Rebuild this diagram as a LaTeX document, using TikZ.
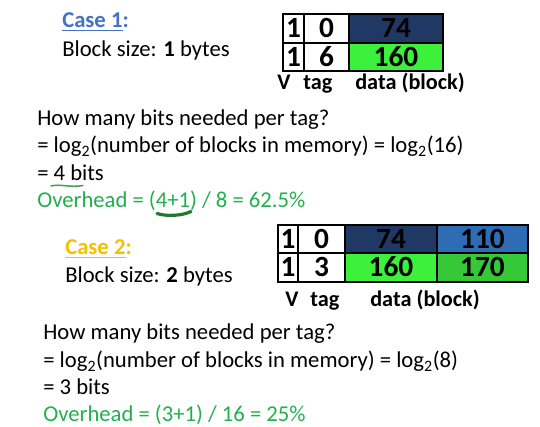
\documentclass[tikz,border=0pt]{standalone}
\usepackage{fontspec}
\setmainfont{Carlito}
\definecolor{caseblue}{HTML}{4472C4}
\definecolor{casegold}{HTML}{F5C000}
\definecolor{okgreen}{HTML}{22B04E}
\definecolor{inkgreen}{HTML}{1E7A32}
\definecolor{penlight}{HTML}{3E9E50}
\definecolor{navy}{HTML}{1F3864}
\definecolor{midblue}{HTML}{2E6DB4}
\definecolor{lime}{HTML}{3CF03C}
\definecolor{leaf}{HTML}{36C836}
% one table cell: name, left, top, right, bottom, fill, text
\newcommand\tcell[7]{%
  \node[cellbox, fill=#6, anchor=north west,
        minimum width={(#4-#2)*0.75pt}, minimum height={(#5-#3)*0.75pt}]
        (#1) at (#2,#3) {#7};}
\begin{document}
\begin{tikzpicture}[x=0.75pt,y=-0.75pt,
  txt/.style={anchor=base west, inner sep=0, font=\fontsize{17}{20}\selectfont},
  lbl/.style={anchor=base west, inner sep=0, font=\fontsize{16.7}{20}\selectfont\bfseries},
  cellbox/.style={draw=black, line width=1.1pt, inner sep=0, outer sep=0,
                  text height=14pt, text depth=0pt,
                  font=\fontsize{22}{22}\selectfont\bfseries, text=black},
  pen/.style={line cap=round, line join=round}]
\useasboundingbox (0,0) rectangle (540,427);

% ---- case 1 ----
\node[txt, font=\fontsize{17}{20}\selectfont\bfseries, text=caseblue] (c1) at (62,28) {\underline{Case 1}:};
\node[txt] (b1) at (62,57) {Block size: \textbf{1} bytes};

\tcell{a1v}{283}{14}{304}{43}{white}{1}
\tcell{a1t}{304}{14}{349}{43}{white}{0}
\tcell{a1d}{349}{14}{443}{43}{navy}{74}
\tcell{a2v}{283}{43}{304}{71}{white}{1}
\tcell{a2t}{304}{43}{349}{71}{white}{6}
\tcell{a2d}{349}{43}{443}{71}{lime}{160}
\node[lbl] (av) at (277,90) {V};
\node[lbl] (at) at (303,90) {tag};
\node[lbl] (ad) at (355,90) {data (block)};

\node[txt] (q1) at (37,126) {How many bits needed per tag?};
\node[txt] (l1) at (37,153) {= log\textsubscript{2}(number of blocks in memory) = log\textsubscript{2}(16)};
\node[txt] (r1) at (37,181) {= 4 bits};
\node[txt, text=okgreen] (o1) at (37,208) {Overhead = (4+1) / 8 = 62.5\%};
\draw[pen, penlight, line width=1.1pt] (51,186) .. controls (60,183.5) and (70,188) .. (83,185.5);
\draw[pen, inkgreen, line width=2.4pt] (157,213.5) .. controls (166,216.5) and (182,216) .. (191,211.5);

% ---- case 2 ----
\node[txt, font=\fontsize{17}{20}\selectfont\bfseries, text=casegold] (c2) at (65,255) {\underline{Case 2}:};
\node[txt] (b2) at (65,283) {Block size: \textbf{2} bytes};

\tcell{b1v}{278}{225}{298}{253}{white}{1}
\tcell{b1t}{298}{225}{345}{253}{white}{0}
\tcell{b1d}{345}{225}{437}{253}{navy}{74}
\tcell{b1e}{437}{225}{528}{253}{midblue}{110}
\tcell{b2v}{278}{253}{298}{282}{white}{1}
\tcell{b2t}{298}{253}{345}{282}{white}{3}
\tcell{b2d}{345}{253}{437}{282}{lime}{160}
\tcell{b2e}{437}{253}{528}{282}{leaf}{170}
\node[lbl] (bv) at (285,307) {V};
\node[lbl] (bt) at (310,307) {tag};
\node[lbl] (bd) at (370,307) {data (block)};

\node[txt] (q2) at (43,340) {How many bits needed per tag?};
\node[txt] (l2) at (43,368) {= log\textsubscript{2}(number of blocks in memory) = log\textsubscript{2}(8)};
\node[txt] (r2) at (43,395) {= 3 bits};
\node[txt, text=okgreen] (o2) at (43,422) {Overhead = (3+1) / 16 = 25\%};
\end{tikzpicture}
\end{document}
